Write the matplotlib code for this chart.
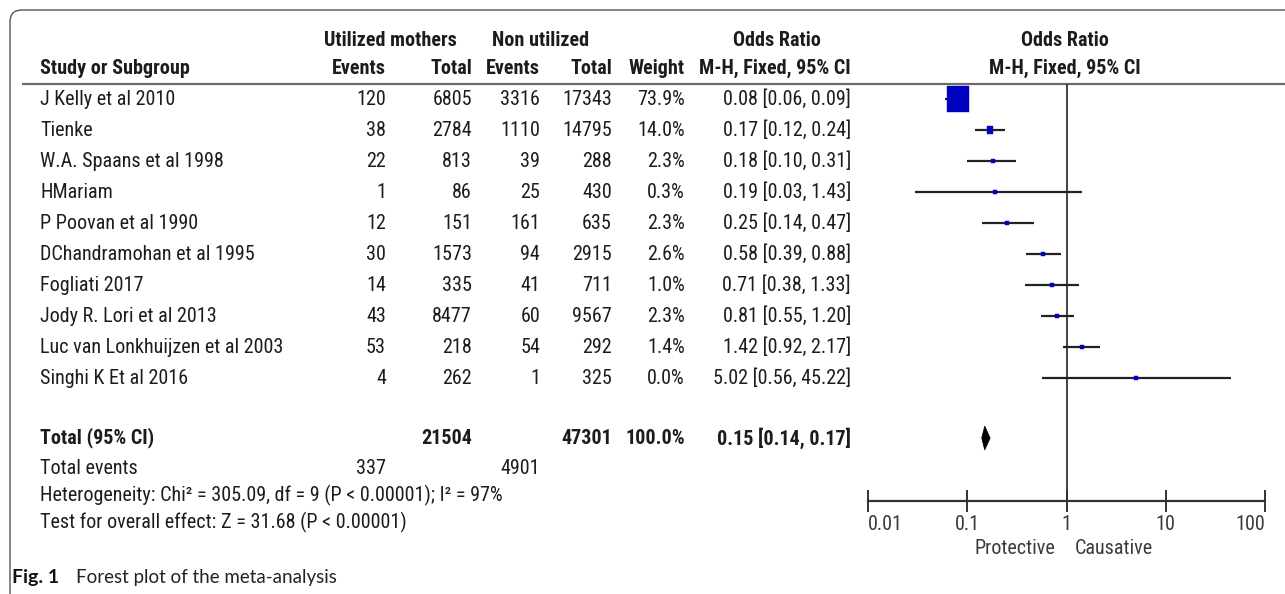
import matplotlib
matplotlib.use("Agg")
import matplotlib.pyplot as plt
from matplotlib import font_manager
from matplotlib.path import Path
from matplotlib.patches import PathPatch, Polygon

# ---------------- data ----------------
studies = ["J Kelly et al 2010", "Tienke", "W.A. Spaans et al 1998", "HMariam",
           "P Poovan et al 1990", "DChandramohan et al 1995", "Fogliati 2017",
           "Jody R. Lori et al 2013", "Luc van Lonkhuijzen et al 2003", "Singhi K Et al 2016"]
util_events = [120, 38, 22, 1, 12, 30, 14, 43, 53, 4]
util_total = [6805, 2784, 813, 86, 151, 1573, 335, 8477, 218, 262]
non_events = [3316, 1110, 39, 25, 161, 94, 41, 60, 54, 1]
non_total = [17343, 14795, 288, 430, 635, 2915, 711, 9567, 292, 325]
weights = [73.9, 14.0, 2.3, 0.3, 2.3, 2.6, 1.0, 2.3, 1.4, 0.0]
or_est = [0.08, 0.17, 0.18, 0.19, 0.25, 0.58, 0.71, 0.81, 1.42, 5.02]
ci_low = [0.06, 0.12, 0.10, 0.03, 0.14, 0.39, 0.38, 0.55, 0.92, 0.56]
ci_high = [0.09, 0.24, 0.31, 1.43, 0.47, 0.88, 1.33, 1.20, 2.17, 45.22]

total_util = 21504
total_non = 47301
total_weight = 100.0
pooled_or = 0.15
pooled_low = 0.14
pooled_high = 0.17
events_util_sum = 337
events_non_sum = 4901
heterogeneity_text = "Heterogeneity: Chi\u00b2 = 305.09, df = 9 (P < 0.00001); I\u00b2 = 97%"
overall_text = "Test for overall effect: Z = 31.68 (P < 0.00001)"
axis_ticks = [0.01, 0.1, 1, 10, 100]
axis_ticklabels = ["0.01", "0.1", "1", "10", "100"]
caption_bold = "Fig. 1"
caption_text = "Forest plot of the meta-analysis"

# ---------------- fonts ----------------
fonts = font_manager.fontManager.ttflist
names = {f.name for f in fonts}
prefs = ["Liberation Sans Narrow", "Arial Narrow", "Roboto Condensed", "PT Sans Narrow",
         "Archivo Narrow", "Fira Sans Condensed", "IBM Plex Sans Condensed",
         "Barlow Semi Condensed", "Liberation Sans"]
NARROW = next(p for p in prefs if p in names or p == "Liberation Sans")
has_bold = any(f.name == NARROW and (f.weight in ("bold", 700) or str(f.weight) == "700")
               for f in fonts)
BOLD = "bold" if has_bold else "normal"
FS = 14.5 if NARROW != "Liberation Sans" else 12.5
TC = "#1c1c1c"
W, H = 1285, 594

fig = plt.figure(figsize=(W / 100, H / 100), dpi=100)
bg = fig.add_axes([0, 0, 1, 1])
bg.set_xlim(0, W)
bg.set_ylim(H, 0)
bg.axis("off")

# frame with rounded top-left corner
verts = [(10, H), (10, 22), (10, 10), (22, 10), (W, 10)]
codes = [Path.MOVETO, Path.LINETO, Path.CURVE3, Path.CURVE3, Path.LINETO]
bg.add_patch(PathPatch(Path(verts, codes), fill=False, ec="#555555", lw=1.0))

# header separator
bg.plot([22, W], [84, 84], color="#6a6a6a", lw=1.6, solid_capstyle="butt")


def t(x, y, s, ha="left", bold=False, color=TC, fs=FS):
    bg.text(x, y, s, ha=ha, va="center", fontsize=fs, color=color,
            family=NARROW, fontweight=BOLD if bold else "normal")


X_NAME, X_UE, X_UT, X_NE, X_NT, X_W, X_OR, X_PLOT = 40, 386, 472, 540, 612, 685, 851, 1065
Y_H1, Y_H2 = 41, 68

# headers
t(390, Y_H1, "Utilized mothers", ha="center", bold=True)
t(541, Y_H1, "Non utilized", ha="center", bold=True)
t(777, Y_H1, "Odds Ratio", ha="center", bold=True)
t(X_PLOT, Y_H1, "Odds Ratio", ha="center", bold=True)
t(X_NAME, Y_H2, "Study or Subgroup", bold=True)
t(X_UE, Y_H2, "Events", ha="right", bold=True)
t(X_UT, Y_H2, "Total", ha="right", bold=True)
t(X_NE, Y_H2, "Events", ha="right", bold=True)
t(X_NT, Y_H2, "Total", ha="right", bold=True)
t(X_W, Y_H2, "Weight", ha="right", bold=True)
t(X_OR, Y_H2, "M-H, Fixed, 95% CI", ha="right", bold=True)
t(X_PLOT, Y_H2, "M-H, Fixed, 95% CI", ha="center", bold=True)

ROW0, ROWH = 99.5, 31
row_y = [ROW0 + ROWH * i for i in range(len(studies))]
for i, name in enumerate(studies):
    y = row_y[i]
    t(X_NAME, y, name)
    t(X_UE, y, str(util_events[i]), ha="right")
    t(X_UT, y, str(util_total[i]), ha="right")
    t(X_NE, y, str(non_events[i]), ha="right")
    t(X_NT, y, str(non_total[i]), ha="right")
    t(X_W, y, f"{weights[i]:.1f}%", ha="right")
    t(X_OR, y, f"{or_est[i]:.2f} [{ci_low[i]:.2f}, {ci_high[i]:.2f}]", ha="right")

Y_TOT, Y_EV, Y_HET, Y_TEST = 438, 468, 495, 522
t(X_NAME, Y_TOT, "Total (95% CI)", bold=True)
t(X_UT, Y_TOT, str(total_util), ha="right", bold=True)
t(X_NT, Y_TOT, str(total_non), ha="right", bold=True)
t(X_W, Y_TOT, f"{total_weight:.1f}%", ha="right", bold=True)
t(X_OR, Y_TOT, f"{pooled_or:.2f} [{pooled_low:.2f}, {pooled_high:.2f}]", ha="right", bold=True)
t(X_NAME, Y_EV, "Total events")
t(X_UE, Y_EV, str(events_util_sum), ha="right")
t(X_NE, Y_EV, str(events_non_sum), ha="right")
t(X_NAME, Y_HET, heterogeneity_text)
t(X_NAME, Y_TEST, overall_text)

t(X_PLOT - 10, 548, "Protective", ha="right", color="#3a3a3a")
t(X_PLOT + 10, 548, "Causative", ha="left", color="#3a3a3a")

# caption
cap_font = "Lato" if "Lato" in names else "DejaVu Sans"
bg.text(12, 578, caption_bold, ha="left", va="center", fontsize=14, fontweight="bold",
        family=cap_font, color="#111111")
bg.text(76, 578, caption_text, ha="left", va="center", fontsize=13.5,
        family=cap_font, color="#222222")

# ---------------- forest plot ----------------
AX_L, AX_R, AX_T, AX_B = 868, 1265, 84, 501
axf = fig.add_axes([AX_L / W, 1 - AX_B / H, (AX_R - AX_L) / W, (AX_B - AX_T) / H])
axf.set_xscale("log")
axf.set_xlim(axis_ticks[0], axis_ticks[-1])
axf.set_ylim(AX_B, AX_T)
axf.patch.set_alpha(0)
for s in ["top", "right", "left"]:
    axf.spines[s].set_visible(False)
axf.spines["bottom"].set_linewidth(1.6)
axf.spines["bottom"].set_color("#333333")
axf.set_xticks(axis_ticks)
axf.set_xticklabels(axis_ticklabels)
axf.xaxis.set_minor_locator(matplotlib.ticker.NullLocator())
axf.tick_params(axis="x", which="major", direction="inout", length=16, width=1.4,
                color="#333333", labelcolor="#3a3a3a", labelsize=FS, pad=2)
labels = axf.get_xticklabels()
for lbl in labels:
    lbl.set_family(NARROW)
labels[0].set_horizontalalignment("left")
labels[-1].set_horizontalalignment("right")
axf.set_yticks([])
axf.axvline(1, color="#333333", lw=1.3, zorder=1)

rect_marker = Path([(-0.78, -1), (0.78, -1), (0.78, 1), (-0.78, 1), (-0.78, -1)],
                   [Path.MOVETO, Path.LINETO, Path.LINETO, Path.LINETO, Path.CLOSEPOLY])
for i in range(len(studies)):
    y = row_y[i]
    axf.plot([ci_low[i], ci_high[i]], [y, y], color="#222222", lw=1.6,
             solid_capstyle="butt", zorder=2)
    h_px = max(4.0, 27 * (weights[i] / max(weights)) ** 0.75)
    axf.plot([or_est[i]], [y], marker=rect_marker, markersize=h_px * 0.72,
             color="#0000c0", mec="#0000c0", mew=0.3, ls="none", zorder=3)

dh = 12
axf.add_patch(Polygon([(pooled_low, Y_TOT), (pooled_or, Y_TOT - dh),
                       (pooled_high, Y_TOT), (pooled_or, Y_TOT + dh)],
                      closed=True, fc="black", ec="black", lw=0.5, zorder=3))

fig.savefig("out.png", dpi=100)
